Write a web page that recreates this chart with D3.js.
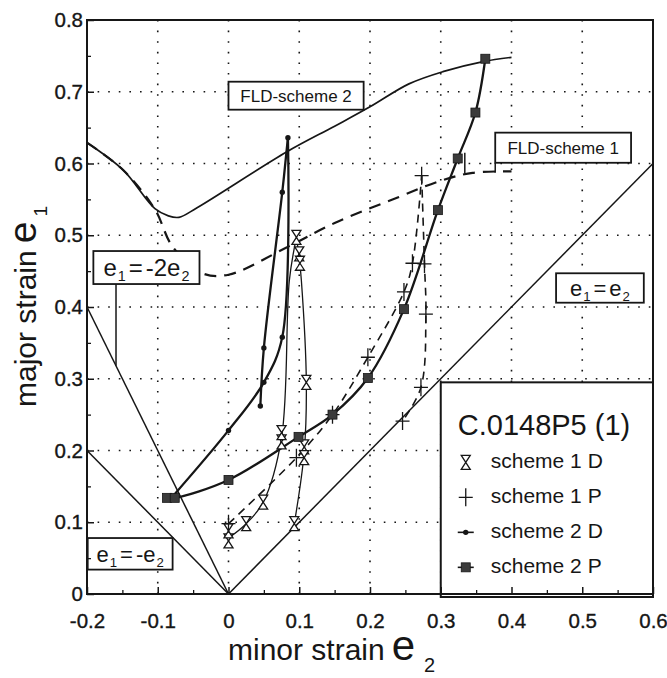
<!DOCTYPE html>
<html>
<head>
<meta charset="utf-8">
<script src="https://cdn.jsdelivr.net/npm/d3@7/dist/d3.min.js"></script>
<style>
  html, body { margin: 0; padding: 0; background: #fff; }
  svg { display: block; font-family: "Liberation Sans", Arial, Helvetica, sans-serif; }
</style>
</head>
<body>
<div id="chart"></div>
<script>
// Forming limit diagram, specimen C.0148P5 (1)

const xTicks = [-0.2, -0.1, 0, 0.1, 0.2, 0.3, 0.4, 0.5, 0.6];
const xTickLabels = ['-0.2', '-0.1', '0', '0.1', '0.2', '0.3', '0.4', '0.5', '0.6'];
const yTicks = [0, 0.1, 0.2, 0.3, 0.4, 0.5, 0.6, 0.7, 0.8];
const yTickLabels = ['0', '0.1', '0.2', '0.3', '0.4', '0.5', '0.6', '0.7', '0.8'];
const xMinor = [-0.15, -0.05, 0.05, 0.15, 0.25, 0.35, 0.45, 0.55];
const yMinor = [0.05, 0.15, 0.25, 0.35, 0.45, 0.55, 0.65, 0.75];
const xGrid = [-0.1, 0, 0.1, 0.2, 0.3, 0.4, 0.5];
const yGrid = [0.1, 0.2, 0.3, 0.4, 0.5, 0.6, 0.7];

// strain path reference lines [e2, e1]
const lineEqual = [[0, 0], [0.6, 0.6]];
const lineMinusOne = [[0, 0], [-0.2, 0.2]];
const lineMinusTwo = [[0, 0], [-0.2, 0.4]];

// forming limit curves [e2, e1]
const fldScheme1 = [[-0.2, 0.629], [-0.149, 0.591], [-0.104, 0.536], [-0.079, 0.484], [-0.037, 0.447],
  [0, 0.445], [0.082, 0.483], [0.15, 0.517], [0.24, 0.553], [0.3, 0.576], [0.345, 0.587], [0.4, 0.589]];
const fldScheme2 = [[-0.2, 0.629], [-0.149, 0.591], [-0.104, 0.537], [-0.085, 0.527], [-0.07, 0.525],
  [-0.045, 0.538], [0.082, 0.616], [0.15, 0.652], [0.2, 0.679], [0.255, 0.711], [0.303, 0.728],
  [0.36, 0.742], [0.4, 0.748]];

// measured strains [e2, e1]
const s1dRise = [[0, 0.078], [0.025, 0.098], [0.049, 0.128], [0.075, 0.218], [0.086, 0.437], [0.096, 0.497]];
const s1dFall = [[0.096, 0.497], [0.1, 0.468], [0.103, 0.437], [0.11, 0.295], [0.107, 0.198], [0.093, 0.098]];
const s1dMarks = [[0, 0.074], [0, 0.088], [0.025, 0.098], [0.049, 0.128], [0.075, 0.212], [0.075, 0.225],
  [0.096, 0.497], [0.1, 0.474], [0.101, 0.461], [0.11, 0.295], [0.107, 0.205], [0.107, 0.19], [0.093, 0.098]];

const s1pRise = [[0, 0.098], [0.096, 0.19], [0.147, 0.25], [0.197, 0.33], [0.248, 0.421], [0.26, 0.461], [0.273, 0.583]];
const s1pFall = [[0.273, 0.583], [0.277, 0.46], [0.279, 0.39], [0.272, 0.288], [0.246, 0.241]];

const s2dRise = [[-0.078, 0.137], [0, 0.228], [0.05, 0.295], [0.076, 0.358], [0.084, 0.636]];
const s2dFall = [[0.084, 0.636], [0.076, 0.56], [0.05, 0.343], [0.045, 0.262]];

const s2p = [[-0.087, 0.134], [-0.076, 0.134], [0, 0.159], [0.099, 0.219], [0.147, 0.25], [0.197, 0.301],
  [0.248, 0.397], [0.296, 0.535], [0.324, 0.607], [0.349, 0.671], [0.363, 0.746]];

const legendTitle = 'C.0148P5 (1)';
const legendNames = ['scheme 1 D', 'scheme 1 P', 'scheme 2 D', 'scheme 2 P'];

// label boxes, in data units: [e2 left, e2 right, e1 top, e1 bottom]
const notes = [
  { parts: ['FLD-scheme 2'], box: [0.0, 0.191, 0.714, 0.675], size: 17 },
  { parts: ['FLD-scheme 1'], box: [0.377, 0.569, 0.643, 0.601], size: 17 },
  { parts: ['e', '_1', '=-2e', '_2'], box: [-0.191, -0.041, 0.478, 0.432], size: 24 },
  { parts: ['e', '_1', '=-e', '_2'], box: [-0.199, -0.079, 0.078, 0.034], size: 22 },
  { parts: ['e', '_1', '=e', '_2'], box: [0.463, 0.587, 0.447, 0.406], size: 22 },
];
const leaders = [
  [[-0.159, 0.432], [-0.159, 0.318]],
  [[0.377, 0.601], [0.377, 0.587]],
  [[0.334, 0.615], [0.334, 0.586]],
];

const W = 667, H = 678;
const INK = '#161616';

const svg = d3.select('#chart').append('svg').attr('width', W).attr('height', H);

const x = d3.scaleLinear().domain([-0.2, 0.6]).range([87, 653]);
const y = d3.scaleLinear().domain([0, 0.8]).range([594, 20]);

const line = d3.line().x(d => x(d[0])).y(d => y(d[1]));
const smooth = d3.line().x(d => x(d[0])).y(d => y(d[1])).curve(d3.curveCatmullRom.alpha(0.5));

// dotted grid
svg.append('g').selectAll('line').data(xGrid).join('line')
  .attr('x1', d => x(d)).attr('x2', d => x(d)).attr('y1', y(0.8)).attr('y2', y(0))
  .attr('stroke', INK).attr('stroke-width', 1.6).attr('stroke-dasharray', '1.6,9');
svg.append('g').selectAll('line').data(yGrid).join('line')
  .attr('x1', x(-0.2)).attr('x2', x(0.6)).attr('y1', d => y(d)).attr('y2', d => y(d))
  .attr('stroke', INK).attr('stroke-width', 1.6).attr('stroke-dasharray', '1.6,9');

// reference strain paths
[lineEqual, lineMinusOne, lineMinusTwo].forEach(p => {
  svg.append('path').attr('d', line(p)).attr('fill', 'none')
    .attr('stroke', INK).attr('stroke-width', 1.5);
});

// forming limit curves
svg.append('path').attr('d', smooth(fldScheme2)).attr('fill', 'none')
  .attr('stroke', INK).attr('stroke-width', 1.7);
svg.append('path').attr('d', smooth(fldScheme1)).attr('fill', 'none')
  .attr('stroke', INK).attr('stroke-width', 2.2).attr('stroke-dasharray', '12,8');

// measured paths
const paths = svg.append('g').attr('fill', 'none').attr('stroke', INK);
[s1dRise, s1dFall].forEach(p => paths.append('path').attr('d', smooth(p)).attr('stroke-width', 1.3));
[s1pRise, s1pFall].forEach(p => paths.append('path').attr('d', smooth(p))
  .attr('stroke-width', 1.6).attr('stroke-dasharray', '8,6'));
[s2dRise, s2dFall].forEach(p => paths.append('path').attr('d', smooth(p)).attr('stroke-width', 2.3));
paths.append('path').attr('d', smooth(s2p)).attr('stroke-width', 2.3);

// marker shapes
const hourglass = 'M-4.5,-7H4.5L-4.5,7H4.5Z';
const plus = 'M-7,0H7M0,-9V9';

function drawHourglass(g) {
  g.append('path').attr('d', hourglass).attr('fill', '#fff').attr('stroke', INK).attr('stroke-width', 1.3);
}
function drawPlus(g) {
  g.append('path').attr('d', plus).attr('fill', 'none').attr('stroke', INK).attr('stroke-width', 1.3);
}
function drawDot(g) {
  g.append('circle').attr('r', 2.7).attr('fill', INK);
}
function drawSquare(g) {
  g.append('rect').attr('x', -4.5).attr('y', -4.5).attr('width', 9).attr('height', 9)
    .attr('fill', '#3b3b3b').attr('stroke', INK).attr('stroke-width', 0.8);
}

function markers(data, draw) {
  svg.append('g').selectAll('g').data(data).join('g')
    .attr('transform', d => `translate(${x(d[0])},${y(d[1])})`)
    .each(function() { draw(d3.select(this)); });
}

markers(s1dMarks, drawHourglass);
markers(s1pRise.concat(s1pFall.slice(1)), drawPlus);
markers(s2dRise.slice(1).concat(s2dFall.slice(1)), drawDot);
markers(s2p, drawSquare);

// label boxes
leaders.forEach(p => {
  svg.append('path').attr('d', line(p)).attr('stroke', INK).attr('stroke-width', 1.5);
});
notes.forEach(n => {
  const [x0, x1, y0, y1] = n.box;
  svg.append('rect')
    .attr('x', x(x0)).attr('y', y(y0))
    .attr('width', x(x1) - x(x0)).attr('height', y(y1) - y(y0))
    .attr('fill', '#fff').attr('stroke', INK).attr('stroke-width', 1.8);
  const t = svg.append('text')
    .attr('x', (x(x0) + x(x1)) / 2)
    .attr('y', (y(y0) + y(y1)) / 2 + n.size * 0.35)
    .attr('text-anchor', 'middle').attr('font-size', n.size).attr('fill', INK);
  let shifted = false;
  n.parts.forEach(p => {
    if (p.startsWith('_')) {
      t.append('tspan').attr('font-size', n.size * 0.6).attr('dy', shifted ? 0 : 5).attr('dx', 1)
        .text(p.slice(1));
      shifted = true;
    } else {
      const sp = t.append('tspan').attr('dy', shifted ? -5 : 0);
      if (p.startsWith('=')) {
        sp.append('tspan').attr('dx', 3).text('=');
        sp.append('tspan').attr('dx', 3).text(p.slice(1));
      } else {
        sp.text(p);
      }
      shifted = false;
    }
  });
});

// legend
const lg = svg.append('g');
const lx = x(0.3), ly = y(0.295);
lg.append('rect').attr('x', lx).attr('y', ly)
  .attr('width', x(0.6) - lx).attr('height', y(0) + 3 - ly)
  .attr('fill', '#fff').attr('stroke', INK).attr('stroke-width', 2);
lg.append('text').attr('x', lx + 17).attr('y', ly + 53)
  .attr('font-size', 29).attr('fill', INK).text(legendTitle);
const drawers = [drawHourglass, drawPlus, drawDot, drawSquare];
legendNames.forEach((name, i) => {
  const row = lg.append('g').attr('transform', `translate(${lx + 25},${ly + 80 + i * 35})`);
  if (i >= 2) {
    row.append('line').attr('x1', -8).attr('x2', 8).attr('stroke', INK).attr('stroke-width', 1.6);
  }
  drawers[i](row);
  row.append('text').attr('x', 25).attr('y', 6).attr('font-size', 21).attr('fill', INK).text(name);
});

// axes
const xAxis = d3.axisBottom(x).tickValues(xTicks).tickSizeInner(-7).tickSizeOuter(0)
  .tickPadding(19).tickFormat((d, i) => xTickLabels[i]);
const gx = svg.append('g').attr('transform', `translate(0,${y(0)})`).call(xAxis);
gx.select('.domain').remove();
gx.selectAll('line').attr('stroke', INK).attr('stroke-width', 1.5);
gx.selectAll('text').attr('font-size', 20.5).attr('fill', INK).attr('font-family', null)
  .attr('stroke', INK).attr('stroke-width', 0.35);

const yAxis = d3.axisLeft(y).tickValues(yTicks).tickSizeInner(-7).tickSizeOuter(0)
  .tickPadding(4).tickFormat((d, i) => yTickLabels[i]);
const gy = svg.append('g').attr('transform', `translate(${x(-0.2)},0)`).call(yAxis);
gy.select('.domain').remove();
gy.selectAll('line').attr('stroke', INK).attr('stroke-width', 1.5);
gy.selectAll('text').attr('font-size', 20.5).attr('fill', INK).attr('font-family', null)
  .attr('stroke', INK).attr('stroke-width', 0.35);

const mx = svg.append('g').attr('transform', `translate(0,${y(0)})`)
  .call(d3.axisBottom(x).tickValues(xMinor).tickSizeInner(-4).tickSizeOuter(0).tickFormat(''));
mx.select('.domain').remove();
mx.selectAll('line').attr('stroke', INK).attr('stroke-width', 1.3);
const my = svg.append('g').attr('transform', `translate(${x(-0.2)},0)`)
  .call(d3.axisLeft(y).tickValues(yMinor).tickSizeInner(-4).tickSizeOuter(0).tickFormat(''));
my.select('.domain').remove();
my.selectAll('line').attr('stroke', INK).attr('stroke-width', 1.3);

// frame
svg.append('rect').attr('x', x(-0.2)).attr('y', y(0.8))
  .attr('width', x(0.6) - x(-0.2)).attr('height', y(0) - y(0.8))
  .attr('fill', 'none').attr('stroke', INK).attr('stroke-width', 2);

// axis titles
const xt = svg.append('text').attr('x', 228).attr('y', 660).attr('fill', INK);
xt.append('tspan').attr('font-size', 30).text('minor strain');
xt.append('tspan').attr('font-size', 42).attr('dx', 7).text('e');
xt.append('tspan').attr('font-size', 20).attr('dx', 9).attr('dy', 12).text('2');

const yt = svg.append('text').attr('transform', 'translate(36,407) rotate(-90)').attr('fill', INK);
yt.append('tspan').attr('font-size', 30).text('major strain');
yt.append('tspan').attr('font-size', 39).attr('dx', 7).text('e');
yt.append('tspan').attr('font-size', 19).attr('dx', 5).attr('dy', 11).text('1');
</script>
</body>
</html>
